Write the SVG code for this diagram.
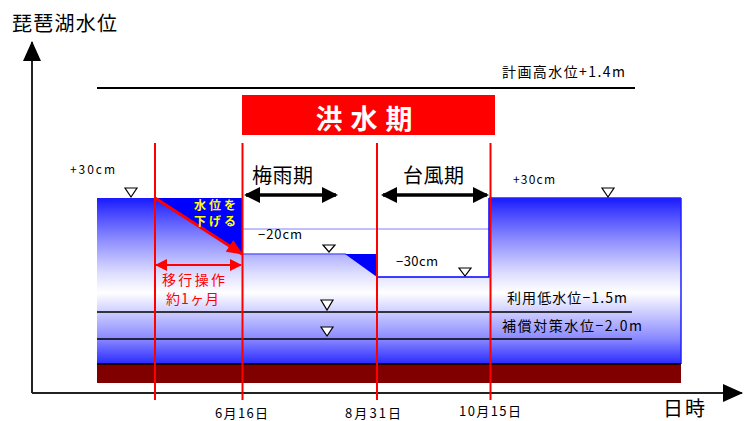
<svg xmlns="http://www.w3.org/2000/svg" width="750" height="421" viewBox="0 0 750 421">
<defs>
<style>
text{font-family:"Noto Sans CJK JP","Liberation Sans",sans-serif;fill:#000}
.t14{font-size:14px}
.t13{font-size:13px}
.t12{font-size:12px}
.big{font-size:20px}
.red{fill:#ff0000}
.rl{stroke:#ff0000;stroke-width:2;fill:none}
.bl{stroke:#000;stroke-width:2;fill:none}
.tri{fill:#fff;stroke:#000;stroke-width:1.2}
.yel{font-size:12px;font-weight:bold;fill:#ffff00}
</style>
<linearGradient id="water" x1="0" y1="198" x2="0" y2="364" gradientUnits="userSpaceOnUse">
<stop offset="0" stop-color="#1a1aff"/>
<stop offset="0.1" stop-color="#4a4aff"/>
<stop offset="0.25" stop-color="#8c8cff"/>
<stop offset="0.45" stop-color="#dcdcff"/>
<stop offset="0.57" stop-color="#ffffff"/>
<stop offset="0.7" stop-color="#c8c8ff"/>
<stop offset="0.85" stop-color="#8888ff"/>
<stop offset="1" stop-color="#2a2aff"/>
</linearGradient>
<marker id="ahBlack" viewBox="0 0 16 16" refX="14" refY="8" markerWidth="16" markerHeight="16" markerUnits="userSpaceOnUse" orient="auto-start-reverse">
<path d="M0,0 L16,8 L0,16 Z" fill="#000"/>
</marker>
<marker id="ahRed" viewBox="0 0 12 12" refX="11" refY="6" markerWidth="12" markerHeight="12" markerUnits="userSpaceOnUse" orient="auto-start-reverse">
<path d="M0,0 L12,6 L0,12 Z" fill="#ff0000"/>
</marker>
<marker id="ahRedBig" viewBox="0 0 16 14" refX="15" refY="7" markerWidth="16" markerHeight="14" markerUnits="userSpaceOnUse" orient="auto">
<path d="M0,0 L16,7 L0,14 Z" fill="#ff0000"/>
</marker>
<marker id="ahAxis" viewBox="0 0 20 18" refX="19" refY="9" markerWidth="20" markerHeight="18" markerUnits="userSpaceOnUse" orient="auto">
<path d="M0,0 L20,9 L0,18 Z" fill="#000"/>
</marker>
</defs>
<rect width="750" height="421" fill="#fff"/>

<g id="lake">
<rect x="97" y="198" width="584" height="166" fill="url(#water)"/>
<rect x="242" y="198" width="135" height="56" fill="#fff"/>
<rect x="377" y="198" width="112" height="79" fill="#fff"/>
<line x1="242" y1="229" x2="490" y2="229" stroke="#8080ff" stroke-width="1"/>
<line x1="242" y1="254" x2="346" y2="254" stroke="#6060ff" stroke-width="1.5"/>
<polygon points="345,254 377,254 377,277" fill="#0000ff"/>
<polyline points="377,277 489,277 489,198" fill="none" stroke="#0000ff" stroke-width="1.5"/>
<line x1="489" y1="198" x2="681" y2="198" stroke="#2020ff" stroke-width="1.5"/>
<line x1="681" y1="198" x2="681" y2="364" stroke="#2020ff" stroke-width="1.5"/>
<polygon points="155,198 242,198 242,254" fill="#0000ff"/>
<rect x="97" y="364" width="584" height="19" fill="#800000"/>
<line x1="97" y1="364" x2="681" y2="364" stroke="#000" stroke-width="1.5"/>
</g>

<g id="levels">
<line x1="97" y1="88" x2="635" y2="88" class="bl"/>
<line x1="97" y1="312" x2="632" y2="312" stroke="#000" stroke-width="1.5"/>
<line x1="97" y1="339" x2="632" y2="339" stroke="#000" stroke-width="1.5"/>
<polygon class="tri" points="125,188 137,188 131,197"/>
<polygon class="tri" points="602,188 614,188 608,197"/>
<polygon class="tri" points="323,245 335,245 329,252"/>
<polygon class="tri" points="459,268 471,268 465,276"/>
<polygon class="tri" points="321,300 333,300 327,310"/>
<polygon class="tri" points="321,327 333,327 327,336"/>
</g>

<g id="axes">
<line x1="32" y1="393" x2="32" y2="42" stroke="#222" stroke-width="2" marker-end="url(#ahAxis)"/>
<line x1="32" y1="393" x2="742" y2="393" stroke="#222" stroke-width="2" marker-end="url(#ahAxis)"/>
</g>

<g id="flood-period">
<rect x="242" y="95" width="253" height="40" fill="#ff0000"/>
<text x="368" y="129" text-anchor="middle" font-size="27" font-weight="bold" letter-spacing="8" style="fill:#fff">洪水期</text>
</g>

<g id="markers">
<line class="rl" x1="155" y1="143" x2="155" y2="400"/>
<line class="rl" x1="242.5" y1="143" x2="242.5" y2="400"/>
<line class="rl" x1="377" y1="143" x2="377" y2="400"/>
<line class="rl" x1="490.5" y1="143" x2="490.5" y2="400"/>
</g>

<g id="connectors">
<line x1="155" y1="198" x2="242" y2="254" stroke="#ff0000" stroke-width="3" marker-end="url(#ahRedBig)"/>
<line x1="156" y1="265" x2="241" y2="265" stroke="#ff0000" stroke-width="2" marker-start="url(#ahRed)" marker-end="url(#ahRed)"/>
<line x1="246" y1="195" x2="336" y2="195" stroke="#000" stroke-width="3.5" marker-start="url(#ahBlack)" marker-end="url(#ahBlack)"/>
<line x1="383" y1="195" x2="487" y2="195" stroke="#000" stroke-width="3.5" marker-start="url(#ahBlack)" marker-end="url(#ahBlack)"/>
</g>

<g id="labels">
<text x="12" y="31" class="big" textLength="105" lengthAdjust="spacing">琵琶湖水位</text>
<text x="663" y="416" class="big" font-size="19" textLength="42" lengthAdjust="spacing">日時</text>
<text x="502" y="77" class="t14" textLength="123" lengthAdjust="spacing">計画高水位+1.4m</text>
<text x="70" y="174" class="t12" textLength="45" lengthAdjust="spacing">+30cm</text>
<text x="513" y="184" class="t12" textLength="42" lengthAdjust="spacing">+30cm</text>
<text x="252" y="183" class="big" font-size="19" textLength="61" lengthAdjust="spacing">梅雨期</text>
<text x="403" y="183" class="big" font-size="19" textLength="61" lengthAdjust="spacing">台風期</text>
<text x="258" y="239" class="t13" textLength="44" lengthAdjust="spacing">−20cm</text>
<text x="396" y="266" class="t13" textLength="42" lengthAdjust="spacing">−30cm</text>
<text x="194" y="210" class="yel" textLength="42" lengthAdjust="spacing">水位を</text>
<text x="194" y="226" class="yel" textLength="42" lengthAdjust="spacing">下げる</text>
<text x="162" y="285" class="t14 red" textLength="63" lengthAdjust="spacing">移行操作</text>
<text x="166" y="304" class="t14 red" textLength="53" lengthAdjust="spacing">約1ヶ月</text>
<text x="507" y="303" class="t14" textLength="120" lengthAdjust="spacing">利用低水位−1.5m</text>
<text x="502" y="331" class="t14" textLength="140" lengthAdjust="spacing">補償対策水位−2.0m</text>
<text x="215" y="418" class="t13" textLength="53" lengthAdjust="spacing">6月16日</text>
<text x="345" y="418" class="t13" textLength="56" lengthAdjust="spacing">8月31日</text>
<text x="459" y="416" class="t13" textLength="62" lengthAdjust="spacing">10月15日</text>
</g>
</svg>
